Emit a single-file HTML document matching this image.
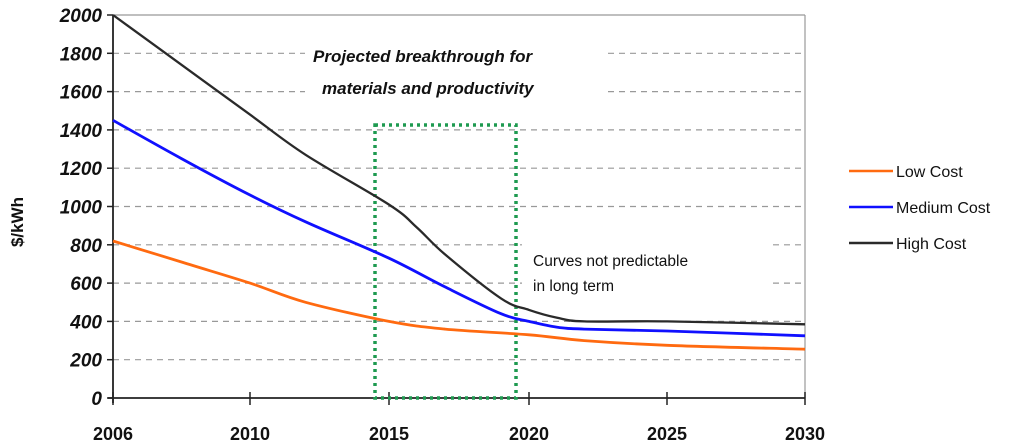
<!DOCTYPE html>
<html><head><meta charset="utf-8"><style>
body{margin:0;background:#fff;width:1024px;height:447px;overflow:hidden}
svg{display:block}
text{font-family:"Liberation Sans",Arial,sans-serif}
</style></head><body>
<svg id="chart" width="1024" height="447"></svg>
<script>
const tickYears=[2006,2010,2015,2020,2025,2030];
const yTicks=[0,200,400,600,800,1000,1200,1400,1600,1800,2000];
const lowYears=[2006,2008,2010,2012,2015,2017,2020,2022,2025,2030];
const lowVals=[820,710,600,500,400,360,330,300,275,255];
const medYears=[2006,2008,2010,2012,2015,2017,2019,2020,2021,2022,2025,2030];
const medVals=[1450,1250,1060,920,730,580,440,400,370,360,350,325];
const highYears=[2006,2008,2010,2012,2015,2016,2017,2019,2020,2021,2022,2025,2030];
const highVals=[2000,1740,1480,1270,1010,890,750,520,460,420,400,400,385];
const NS="http://www.w3.org/2000/svg";
const svg=document.getElementById('chart');
const tickX=[113,250,389,529,667,805];
function xOf(yr){for(let i=0;i<tickYears.length-1;i++){if(yr<=tickYears[i+1]){const f=(yr-tickYears[i])/(tickYears[i+1]-tickYears[i]);return tickX[i]+f*(tickX[i+1]-tickX[i]);}}return tickX[tickX.length-1];}
function yOf(v){return 398-v/2000*383;}
function el(t,a,p){const e=document.createElementNS(NS,t);for(const k in a)e.setAttribute(k,a[k]);(p||svg).appendChild(e);return e;}
yTicks.forEach(v=>{if(v===0||v===2000)return;
const g=el('line',{x1:113,x2:805,y1:yOf(v),y2:yOf(v),stroke:'#999','stroke-width':1.2,'stroke-dasharray':'6,5'});

});
const tb=el('line',{x1:113,x2:805,y1:yOf(2000),y2:yOf(2000),stroke:'#999','stroke-width':1.2});


const rb=el('line',{x1:805,x2:805,y1:yOf(2000),y2:398,stroke:'#999','stroke-width':1.2});


el('rect',{x:305,y:36,width:298,height:66,fill:'#fff'});
el('rect',{x:522,y:244,width:250,height:50,fill:'#fff'});
const ax=el('line',{x1:113,x2:113,y1:yOf(2000),y2:403,stroke:'#222','stroke-width':1.8});


const bx=el('line',{x1:108,x2:805,y1:398,y2:398,stroke:'#222','stroke-width':1.8});


yTicks.forEach(v=>{
el('line',{x1:107,x2:113,y1:yOf(v),y2:yOf(v),stroke:'#222','stroke-width':1.5});
const t=el('text',{x:102,y:yOf(v)+7,'text-anchor':'end','font-size':19,'font-weight':'bold','font-style':'italic',fill:'#111','font-family':'Liberation Serif, serif'});
t.textContent=v;

});
tickYears.forEach(yr=>{const x=xOf(yr);
el('line',{x1:x,x2:x,y1:392,y2:405,stroke:'#222','stroke-width':1.5});
const t=el('text',{x:x,y:440,'text-anchor':'middle','font-size':18,'font-weight':'bold',fill:'#111'});
t.textContent=yr;

});
const yt=el('text',{x:23,y:222,'text-anchor':'middle','font-size':17,'font-weight':'bold',fill:'#111',transform:'rotate(-90 23 222)'});
yt.textContent='$/kWh';


const gb=el('rect',{x:375,y:125,width:141,height:273,fill:'none',stroke:'#1e9a50','stroke-width':3.5,'stroke-dasharray':'3,4'});


function series(xs,vs,color,w,name){
const P=xs.map((yr,i)=>[xOf(yr),yOf(vs[i])]);
let d='M'+P[0][0].toFixed(1)+','+P[0][1].toFixed(1);
for(let i=0;i<P.length-1;i++){const p0=P[Math.max(0,i-1)],p1=P[i],p2=P[i+1],p3=P[Math.min(P.length-1,i+2)];
const c1=[p1[0]+(p2[0]-p0[0])/6,p1[1]+(p2[1]-p0[1])/6],c2=[p2[0]-(p3[0]-p1[0])/6,p2[1]-(p3[1]-p1[1])/6];
d+=' C'+c1.map(n=>n.toFixed(1)).join(',')+' '+c2.map(n=>n.toFixed(1)).join(',')+' '+p2[0].toFixed(1)+','+p2[1].toFixed(1);}
const p=el('path',{d:d,fill:'none',stroke:color,'stroke-width':w,'stroke-linejoin':'round'});

}
series(lowYears,lowVals,'#ff6a10',2.8,'low-cost-line');
series(medYears,medVals,'#1010ff',2.8,'medium-cost-line');
series(highYears,highVals,'#2a2a2a',2.3,'high-cost-line');
const a1=el('text',{x:313,y:62,'font-size':17,'font-weight':'bold','font-style':'italic',fill:'#111'});
a1.textContent='Projected breakthrough  for';


const a2=el('text',{x:322,y:94,'font-size':17,'font-weight':'bold','font-style':'italic',fill:'#111'});
a2.textContent='materials and productivity';


const c1=el('text',{x:533,y:266,'font-size':15.5,fill:'#111'});
c1.textContent='Curves not predictable';


const c2=el('text',{x:533,y:291,'font-size':15.5,fill:'#111'});
c2.textContent='in long term';


const leg=[['Low Cost','#ff6a10',171],['Medium Cost','#1010ff',207],['High Cost','#2a2a2a',243]];
leg.forEach(l=>{
const ln=el('line',{x1:849,x2:893,y1:l[2],y2:l[2],stroke:l[1],'stroke-width':2.6});


const t=el('text',{x:896,y:l[2]+6,'font-size':16,fill:'#111'});
t.textContent=l[0];

});
</script>
</body></html>
